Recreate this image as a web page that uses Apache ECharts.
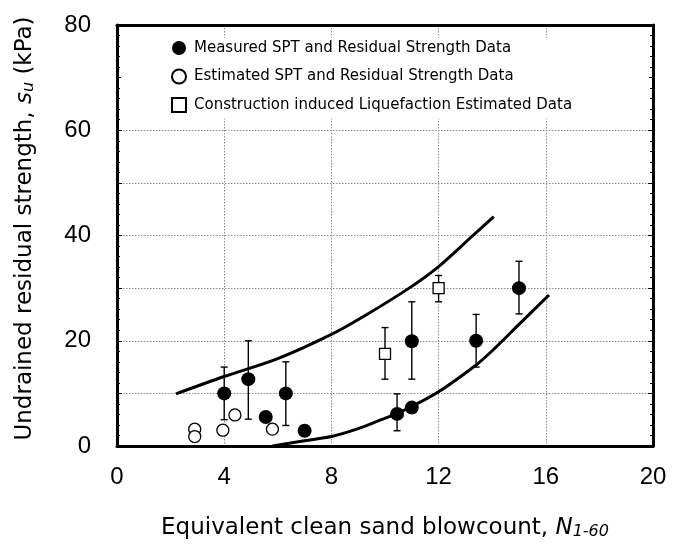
<!DOCTYPE html>
<html>
<head>
<meta charset="utf-8">
<script src="https://cdn.jsdelivr.net/npm/echarts@6/dist/echarts.min.js"></script>
<style>
  html, body { margin: 0; padding: 0; background: #fff; }
  #chart { width: 673px; height: 545px; }
</style>
</head>
<body>
<div id="chart"></div>
<script>
// Residual strength vs. equivalent clean sand blowcount

// Measured SPT and residual strength data
const measuredN  = [4.0, 4.9, 5.55, 6.3, 7.0, 10.45, 11.0, 11.0, 13.4, 15.0];
const measuredSu = [10.0, 12.7, 5.5, 10.0, 2.9, 6.1, 7.3, 19.9, 20.0, 30.0];

// Error bars on measured data: blowcount, lower, upper
const measuredBarN    = [4.0, 4.9, 6.3, 10.45, 11.0, 13.4, 15.0];
const measuredBarLow  = [5.0, 5.1, 3.9, 2.9, 12.7, 15.0, 25.1];
const measuredBarHigh = [15.0, 20.0, 16.0, 9.9, 27.4, 25.0, 35.1];

// Estimated SPT and residual strength data
const estimatedN  = [2.9, 2.9, 3.95, 4.4, 5.8];
const estimatedSu = [3.2, 1.8, 3.0, 5.9, 3.2];

// Construction induced liquefaction estimated data
const constructionN    = [10.0, 12.0];
const constructionSu   = [17.5, 30.0];
const constructionLow  = [12.7, 27.4];
const constructionHigh = [22.5, 32.4];

// Bounding curves
const upperCurveN  = [2.2, 4.0, 6.0, 8.0, 9.26, 10.9, 12.0, 13.28, 14.06];
const upperCurveSu = [9.9, 13.2, 16.6, 21.2, 24.8, 30.0, 34.1, 40.0, 43.6];
const lowerCurveN  = [5.8, 7.0, 8.0, 9.0, 9.81, 10.45, 11.0, 12.0, 13.4, 14.0, 15.0, 16.12];
const lowerCurveSu = [0.0, 1.0, 1.8, 3.3, 4.9, 6.2, 7.5, 10.3, 15.4, 18.1, 23.1, 28.7];

// Axis tick labels
const xTickLabels = [0, 4, 8, 12, 16, 20];
const yTickLabels = [0, 20, 40, 60, 80];

// Legend panel extent (in data units) that hides the grid behind the key
const legendPanelN  = [0.15, 19.85];
const legendPanelSu = [62.2, 77.6];

const seriesNames = [
  'Measured SPT and Residual Strength Data',
  'Estimated SPT and Residual Strength Data',
  'Construction induced Liquefaction Estimated Data'
];

const FONT = '"DejaVu Sans", sans-serif';
const TICK_FONT = '"Liberation Sans", Arial, sans-serif';

const zip = (a, b) => a.map((v, i) => [v, b[i]]);
const zip3 = (a, b, c) => a.map((v, i) => [v, b[i], c[i]]);

function errorBar(params, api) {
  const x = api.value(0);
  const lo = api.coord([x, api.value(1)]);
  const hi = api.coord([x, api.value(2)]);
  const w = 3.5;
  const st = { stroke: '#000', lineWidth: 1.4 };
  return {
    type: 'group',
    children: [
      { type: 'line', shape: { x1: hi[0], y1: hi[1], x2: lo[0], y2: lo[1] }, style: st },
      { type: 'line', shape: { x1: hi[0] - w, y1: hi[1], x2: hi[0] + w, y2: hi[1] }, style: st },
      { type: 'line', shape: { x1: lo[0] - w, y1: lo[1], x2: lo[0] + w, y2: lo[1] }, style: st }
    ]
  };
}

const gridLine = { show: true, lineStyle: { color: '#8c8c8c', type: [1.5, 1.5], width: 1 } };
const frameLine = { show: true, onZero: false, lineStyle: { color: '#000', width: 3 } };
const yTicks = { show: true, inside: true, length: 5, lineStyle: { color: '#000', width: 1 } };
const yMinor = { show: true, splitNumber: 5, length: 3, lineStyle: { color: '#000', width: 1 } };

const chart = echarts.init(document.getElementById('chart'), null, { renderer: 'canvas' });

chart.setOption({
  animation: false,
  backgroundColor: '#fff',
  textStyle: { fontFamily: FONT },
  grid: { left: 117, right: 20, top: 25, bottom: 95, containLabel: false },
  legend: {
    orient: 'vertical',
    left: 171,
    top: 39,
    itemWidth: 14,
    itemHeight: 14,
    itemGap: 10.5,
    padding: 0,
    data: seriesNames,
    textStyle: { fontFamily: FONT, fontSize: 15, color: '#000', lineHeight: 18, padding: [0, 0, 0, 3] },
    selectedMode: false
  },
  xAxis: [
    {
      type: 'value', position: 'bottom', min: 0, max: 20, interval: 4,
      axisLine: frameLine, axisTick: { show: false },
      axisLabel: {
        fontFamily: TICK_FONT, fontSize: 24, color: '#000', margin: 19,
        formatter: v => (xTickLabels.includes(v) ? String(v) : '')
      },
      splitLine: gridLine,
      name: '{t|Equivalent clean sand blowcount, }{n|N}{s|1-60}',
      nameLocation: 'middle', nameGap: 71,
      nameTextStyle: {
        rich: {
          t: { fontFamily: FONT, fontSize: 23, color: '#000' },
          n: { fontFamily: FONT, fontSize: 23, color: '#000', fontStyle: 'italic' },
          s: { fontFamily: FONT, fontSize: 16, color: '#000', fontStyle: 'italic', padding: [7, 0, 0, 0] }
        }
      }
    },
    {
      type: 'value', position: 'top', min: 0, max: 20, interval: 4,
      axisLine: frameLine, axisTick: { show: false }, axisLabel: { show: false }, splitLine: { show: false }
    }
  ],
  yAxis: [
    {
      type: 'value', position: 'left', min: 0, max: 80, interval: 10,
      axisLine: frameLine,
      axisTick: yTicks,
      minorTick: yMinor,
      axisLabel: {
        fontFamily: TICK_FONT, fontSize: 24, color: '#000', margin: 26,
        formatter: v => (yTickLabels.includes(v) ? String(v) : '')
      },
      splitLine: gridLine,
      name: '{t|Undrained residual strength, }{s|s}{u|u}{t| (kPa)}',
      nameLocation: 'middle', nameGap: 80, nameRotate: 90,
      nameTextStyle: {
        padding: [0, 0, 0, 14],
        rich: {
          t: { fontFamily: FONT, fontSize: 23, color: '#000' },
          s: { fontFamily: FONT, fontSize: 23, color: '#000', fontStyle: 'italic' },
          u: { fontFamily: FONT, fontSize: 16, color: '#000', fontStyle: 'italic', padding: [7, 0, 0, 0] }
        }
      }
    },
    {
      type: 'value', position: 'right', min: 0, max: 80, interval: 10,
      axisLine: frameLine,
      axisTick: yTicks,
      minorTick: yMinor,
      axisLabel: { show: false },
      splitLine: { show: false }
    }
  ],
  series: [
    {
      name: 'upper bound',
      type: 'line', smooth: 0.3, symbol: 'none', z: 3,
      data: zip(upperCurveN, upperCurveSu),
      lineStyle: { color: '#000', width: 3 },
      markArea: {
        silent: true,
        itemStyle: { color: '#fff', opacity: 1 },
        data: [[{ coord: [legendPanelN[0], legendPanelSu[0]] }, { coord: [legendPanelN[1], legendPanelSu[1]] }]]
      }
    },
    {
      name: 'lower bound',
      type: 'line', smooth: 0.3, symbol: 'none', z: 3,
      data: zip(lowerCurveN, lowerCurveSu),
      lineStyle: { color: '#000', width: 3 }
    },
    {
      name: 'measured error',
      type: 'custom', silent: true, z: 4,
      renderItem: errorBar,
      data: zip3(measuredBarN, measuredBarLow, measuredBarHigh)
    },
    {
      name: 'construction error',
      type: 'custom', silent: true, z: 4,
      renderItem: errorBar,
      data: zip3(constructionN, constructionLow, constructionHigh)
    },
    {
      name: seriesNames[0],
      type: 'scatter', symbol: 'circle', symbolSize: 14, z: 5,
      itemStyle: { color: '#000', opacity: 1 },
      data: zip(measuredN, measuredSu)
    },
    {
      name: seriesNames[1],
      type: 'scatter', symbol: 'circle', symbolSize: 12, z: 5,
      itemStyle: { color: '#fff', borderColor: '#000', borderWidth: 1.3, opacity: 1 },
      data: zip(estimatedN, estimatedSu)
    },
    {
      name: seriesNames[2],
      type: 'scatter', symbol: 'rect', symbolSize: 11, z: 5,
      itemStyle: { color: '#fff', borderColor: '#000', borderWidth: 1.3, opacity: 1 },
      data: zip(constructionN, constructionSu)
    }
  ]
});
</script>
</body>
</html>
